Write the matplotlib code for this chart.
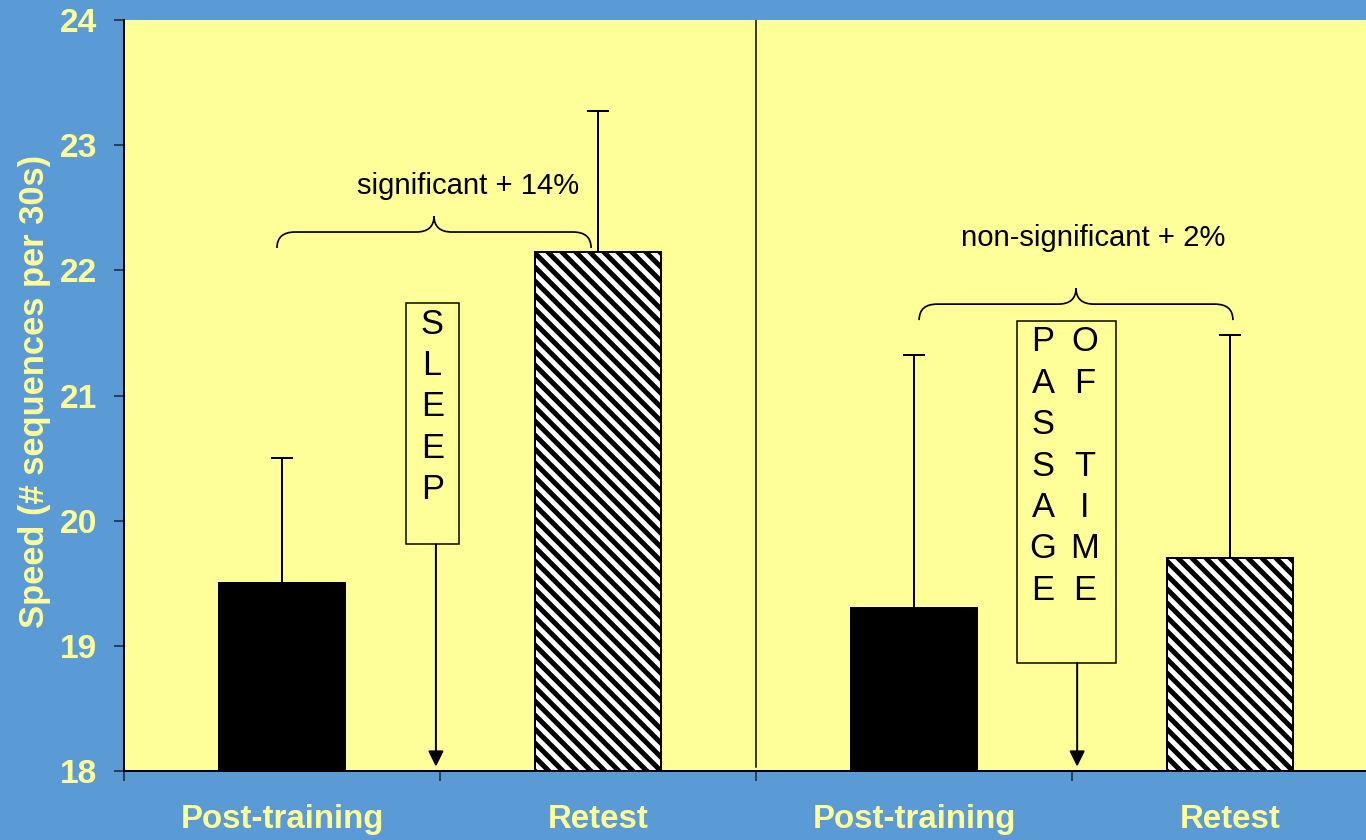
import matplotlib.pyplot as plt
import numpy as np
from matplotlib.path import Path
from matplotlib.patches import PathPatch, Rectangle, FancyArrowPatch

### data
conditions = ['Post-training', 'Retest', 'Post-training', 'Retest']
speed = [19.5, 22.15, 19.3, 19.7]     # sequences per 30 s
sem = [1.0, 1.12, 2.02, 1.78]         # upper error bars
notes = ['significant + 14%', 'non-significant + 2%']
sleep_word = 'SLEEP'
passage_words = ['PASSAGE', 'OF TIME']

### style
BLUE = '#5a9ad5'
YELLOW = '#ffff99'
TICKC = '#2b3f57'
DPI = 80
Y0 = 18   # axis floor, bars start here


def pt(px):
    # pixel size -> points at this dpi
    return px * 72 / DPI


plt.rcParams['font.family'] = ['Liberation Sans', 'DejaVu Sans']

fig = plt.figure(figsize=(1366 / DPI, 840 / DPI), dpi=DPI, facecolor=BLUE)
ax = fig.add_axes([124 / 1366, 69 / 840, 1242 / 1366, 751 / 840])
ax.set_facecolor(YELLOW)
ax.set_xlim(-0.5, 3.43)
ax.set_ylim(Y0, 24)

x = np.arange(len(conditions))
heights = np.array(speed) - Y0
bars = ax.bar(x, heights, bottom=Y0, width=0.4, color=['k', 'w', 'k', 'w'],
              edgecolor='k', linewidth=pt(2), zorder=3)
ax.errorbar(x, speed, yerr=[np.zeros(len(sem)), sem], fmt='none', ecolor='k',
            elinewidth=pt(2), capsize=pt(11), capthick=pt(2), zorder=2)


##---- diagonal stripes on the retest bars (drawn by hand, clipped to the bar)
def stripes(ax, bar, period=14, lw_px=5.0):
    (x0, y0), (x1, y1) = ax.transData.transform(
        [(bar.get_x(), bar.get_y()), (bar.get_x() + bar.get_width(), bar.get_y() + bar.get_height())])
    inv = ax.transData.inverted()
    h = (x1 - x0) + (y1 - y0)
    for c in np.arange(x0 + y0 - period, x1 + y1 + period, period):
        seg = inv.transform([(x0 - h, c - x0 + h), (x1 + h, c - x1 - h)])
        ln, = ax.plot(seg[:, 0], seg[:, 1], color='k', lw=pt(lw_px),
                      solid_capstyle='butt', zorder=3.1)
        ln.set_clip_path(bar)


for i, b in enumerate(bars):
    if i % 2 == 1:
        stripes(ax, b)
# outlines back on top of the stripes
ax.bar(x, heights, bottom=Y0, width=0.4, fill=False, edgecolor='k',
       linewidth=pt(2), zorder=3.2)

# divider between the two experiments
ax.plot([1.5, 1.5], [18.03, 24], color='k', lw=pt(1.5), zorder=2)

##---- axes, ticks
for s in ['top', 'right']:
    ax.spines[s].set_visible(False)
for s in ['left', 'bottom']:
    ax.spines[s].set_linewidth(pt(2))
    ax.spines[s].set_zorder(4)

ax.set_xticks([-0.5, 0.5, 1.5, 2.5])
ax.set_xticklabels([])
ax.set_xticks(x, conditions, minor=True)
ax.tick_params(axis='x', which='major', length=pt(10), width=pt(2), color=TICKC)
ax.tick_params(axis='x', which='minor', length=0, pad=pt(33), labelsize=pt(33),
               labelcolor=YELLOW)
ax.set_yticks(range(18, 25))
ax.tick_params(axis='y', length=pt(10), width=pt(2), color=TICKC, pad=pt(17),
               labelsize=pt(33.5), labelcolor=YELLOW)
for lbl in ax.get_xticklabels(minor=True) + ax.get_yticklabels():
    lbl.set_fontweight('bold')

ax.set_ylabel('Speed (# sequences per 30s)', fontsize=pt(34.5), fontweight='bold',
              color=YELLOW, va='center')
ax.yaxis.set_label_coords(-0.072, 0.505)


##---- curly braces
def brace(ax, xa, xb, y, r_px=18):
    p0 = ax.transData.transform((0, 0))
    p1 = ax.transData.transform((1, 1))
    rx = r_px / (p1[0] - p0[0])
    ry = (r_px - 2) / (p1[1] - p0[1])
    xm = (xa + xb) / 2
    verts = [(xa, y - ry), (xa, y), (xa + rx, y),
             (xm - rx, y), (xm, y), (xm, y + ry),
             (xm, y), (xm + rx, y),
             (xb - rx, y), (xb, y), (xb, y - ry)]
    codes = [Path.MOVETO, Path.CURVE3, Path.CURVE3,
             Path.LINETO, Path.CURVE3, Path.CURVE3,
             Path.CURVE3, Path.CURVE3,
             Path.LINETO, Path.CURVE3, Path.CURVE3]
    ax.add_patch(PathPatch(Path(verts, codes), fill=False, lw=pt(1.7),
                           edgecolor='k', zorder=4))


brace(ax, -0.016, 0.978, 22.306)
brace(ax, 2.016, 3.009, 21.73)
ax.text(0.59, 22.61, notes[0], ha='center', va='baseline', fontsize=pt(29.3))
ax.text(2.566, 22.194, notes[1], ha='center', va='baseline', fontsize=pt(29.3))

##---- boxed captions with arrows
step = 41.4 / 125.17
fs_letter = pt(34.5)

ax.add_patch(Rectangle((0.392, 19.81), 0.168, 1.93, facecolor=YELLOW,
                       edgecolor='k', lw=pt(1.5), zorder=4))
for k, ch in enumerate(sleep_word):
    ax.text(0.475, 21.571 - k * step, ch, ha='center', va='center',
            fontsize=fs_letter, zorder=5)

ax.add_patch(Rectangle((2.326, 18.863), 0.313, 2.732, facecolor=YELLOW,
                       edgecolor='k', lw=pt(1.5), zorder=4))
col1 = passage_words[0]
col2 = passage_words[1].replace(' ', '')
rows2 = [0, 1, 3, 4, 5, 6]
for k, ch in enumerate(col1):
    ax.text(2.408, 21.428 - k * step, ch, ha='center', va='center',
            fontsize=fs_letter, zorder=5)
for k, ch in zip(rows2, col2):
    ax.text(2.541, 21.428 - k * step, ch, ha='center', va='center',
            fontsize=fs_letter, zorder=5)

for xa, ytop in [(0.487, 19.81), (2.516, 18.863)]:
    ax.add_patch(FancyArrowPatch((xa, ytop), (xa, 18.035),
                                 arrowstyle='-|>,head_length=%.1f,head_width=%.1f' % (pt(13), pt(6.5)),
                                 mutation_scale=1, lw=pt(2), color='k',
                                 shrinkA=0, shrinkB=0, zorder=4))

fig.savefig('out.png', dpi=DPI, facecolor=BLUE)
